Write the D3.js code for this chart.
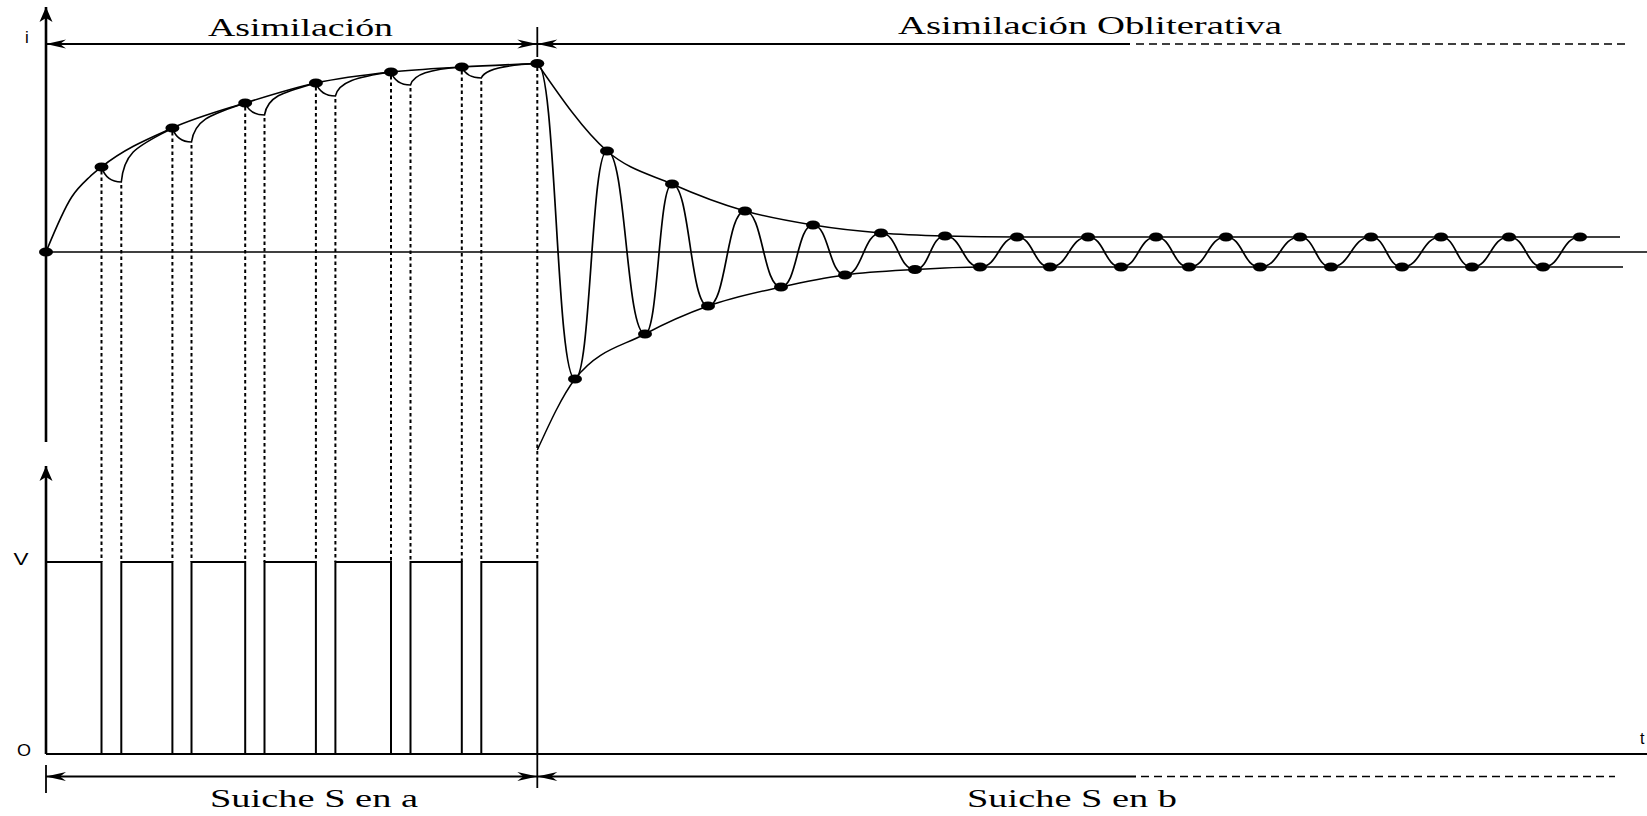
<!DOCTYPE html>
<html lang="es">
<head>
<meta charset="utf-8">
<title>Asimilación</title>
<script src="https://cdn.jsdelivr.net/npm/d3@7"></script>
<style>
  body { margin: 0; background: #fff; }
  svg { display: block; }
</style>
</head>
<body>
<div class="grafica"></div>
<script>
// Datos (t en unidades de tiempo, i en unidades de corriente)
var tInicio = [0, 25.7, 43.6];          // primera subida desde el origen
var iInicio = [0, 55, 75];
var tApagado = [55.5, 126.4, 199.2, 269.9, 345, 415.8, 491.3];   // puntos: el suiche se abre
var iCarga = [85, 124, 149, 169, 180, 185, 188.5];
var tEncendido = [75.3, 145.5, 218.5, 289.4, 364.5, 435.3];      // el suiche vuelve a cerrar
var iValle = [70, 110, 137, 156, 167, 174];

var tOsc = [491.3, 529, 561, 599, 626, 662, 699, 735, 767, 799, 835, 869, 899, 934, 971, 1004,
            1042, 1075, 1110, 1143, 1180, 1214, 1254, 1285, 1325, 1356, 1395, 1426, 1463, 1497, 1534];
var iOsc = [188.5, -127, 101, -82, 68, -54, 41, -35, 27, -23, 19, -17.5, 16, -15, 15, -15,
            15, -15, 15, -15, 15, -15, 15, -15, 15, -15, 15, -15, 15, -15, 15];

var tEnvSup = [491.3, 561, 626, 699, 767, 835, 899, 971, 1574];
var iEnvSup = [188.5, 101, 68, 41, 27, 19, 16, 15, 15];
var tEnvInf = [491.3, 529, 599, 662, 735, 799, 869, 934, 1577];
var iEnvInf = [-198, -127, -82, -54, -35, -23, -17.5, -15, -15];

var nivelV = 1;
var fases = ["Asimilación", "Asimilación Obliterativa"];
var suiche = ["Suiche S en a", "Suiche S en b"];
var ejes = ["i", "V", "O", "t"];

var W = 1647, H = 816;
var svg = d3.select(".grafica").append("svg")
    .attr("width", W)
    .attr("height", H);

var x = d3.scaleLinear().domain([0, 1600]).range([46, 1646]);
var yI = d3.scaleLinear().domain([-200, 200]).range([452, 52]);
var yV = d3.scaleLinear().domain([0, 1]).range([754, 562]);

// Flechas
var defs = svg.append("defs");
defs.append("marker")
    .attr("id", "cota")
    .attr("viewBox", "-22 -6 24 12")
    .attr("refX", 0).attr("refY", 0)
    .attr("markerWidth", 24).attr("markerHeight", 12)
    .attr("markerUnits", "userSpaceOnUse")
    .attr("orient", "auto-start-reverse")
    .append("path")
    .attr("d", "M0,0 L-20,-4.5 L-14,0 L-20,4.5 Z")
    .attr("fill", "black");
defs.append("marker")
    .attr("id", "eje")
    .attr("viewBox", "-17 -8 18 16")
    .attr("refX", 0).attr("refY", 0)
    .attr("markerWidth", 18).attr("markerHeight", 16)
    .attr("markerUnits", "userSpaceOnUse")
    .attr("orient", "auto")
    .append("path")
    .attr("d", "M0,0 L-15,-6.5 L-11,0 L-15,6.5 Z")
    .attr("fill", "black");

function linea(x1, y1, x2, y2, ancho) {
    return svg.append("line")
        .attr("x1", x1).attr("y1", y1)
        .attr("x2", x2).attr("y2", y2)
        .attr("stroke", "black")
        .attr("stroke-width", ancho);
}

// Lineas verticales punteadas (suiche)
tApagado.forEach(function(t, k) {
    linea(x(t), yI(iCarga[k]) + 4, x(t), yV(nivelV), 2).attr("stroke-dasharray", "3.5,3");
});
tEncendido.forEach(function(t, k) {
    linea(x(t), yI(iValle[k]) + 3, x(t), yV(nivelV), 2).attr("stroke-dasharray", "3.5,3");
});

// Ejes
linea(x(0), yI(-190), x(0), yI(245), 2.6).attr("marker-end", "url(#eje)");
linea(x(0), yV(0), x(0), yV(1.5), 2.6).attr("marker-end", "url(#eje)");
linea(x(0) - 4, yI(0), W, yI(0), 1.5);
linea(x(0), yV(0), W, yV(0), 2.2);

// Pulsos de tension
var pulsos = [[0, nivelV]];
tApagado.forEach(function(t, k) {
    pulsos.push([t, 0]);
    if (k < tEncendido.length) pulsos.push([tEncendido[k], nivelV]);
});
svg.append("path")
    .attr("d", d3.line()
        .x(function(d) { return x(d[0]); })
        .y(function(d) { return yV(d[1]); })
        .curve(d3.curveStepAfter)(pulsos))
    .attr("fill", "none")
    .attr("stroke", "black")
    .attr("stroke-width", 2);

var curva = d3.line()
    .x(function(d) { return x(d[0]); })
    .y(function(d) { return yI(d[1]); })
    .curve(d3.curveMonotoneX);

// Envolvente de carga
var carga = tInicio.map(function(t, k) { return [t, iInicio[k]]; })
    .concat(tApagado.map(function(t, k) { return [t, iCarga[k]]; }));
svg.append("path")
    .attr("d", curva(carga))
    .attr("fill", "none").attr("stroke", "black").attr("stroke-width", 1.6);

// Descargas y recargas entre pulsos
tEncendido.forEach(function(t, k) {
    var D = [x(tApagado[k]), yI(iCarga[k])];
    var C = [x(t), yI(iValle[k])];
    var N = [x(tApagado[k + 1]), yI(iCarga[k + 1])];
    var p = d3.path();
    p.moveTo(D[0], D[1]);
    p.quadraticCurveTo(D[0] + 0.25 * (C[0] - D[0]), C[1], C[0], C[1]);
    p.bezierCurveTo(C[0] + 0.06 * (N[0] - C[0]), C[1] - 0.6 * (C[1] - N[1]),
        N[0] - 0.45 * (N[0] - D[0]), N[1] + 0.45 * (D[1] - N[1]),
        N[0], N[1]);
    svg.append("path")
        .attr("d", p.toString())
        .attr("fill", "none").attr("stroke", "black").attr("stroke-width", 1.6);
});

// Envolventes de la oscilacion
svg.append("path")
    .attr("d", curva(tEnvSup.map(function(t, k) { return [t, iEnvSup[k]]; })))
    .attr("fill", "none").attr("stroke", "black").attr("stroke-width", 1.5);
svg.append("path")
    .attr("d", curva(tEnvInf.map(function(t, k) { return [t, iEnvInf[k]]; })))
    .attr("fill", "none").attr("stroke", "black").attr("stroke-width", 1.5);

// Oscilacion amortiguada
var osc = tOsc.map(function(t, k) { return [t, iOsc[k]]; });
svg.append("path")
    .attr("d", d3.line()
        .x(function(d) { return x(d[0]); })
        .y(function(d) { return yI(d[1]); })
        .curve(d3.curveBumpX)(osc))
    .attr("fill", "none").attr("stroke", "black").attr("stroke-width", 1.7);

// Puntos
var puntos = [[0, 0]]
    .concat(tApagado.map(function(t, k) { return [t, iCarga[k]]; }), osc.slice(1));
svg.selectAll("ellipse.punto")
    .data(puntos)
    .enter().append("ellipse")
    .attr("class", "punto")
    .attr("cx", function(d) { return x(d[0]); })
    .attr("cy", function(d) { return yI(d[1]); })
    .attr("rx", 7)
    .attr("ry", 4.5)
    .attr("fill", "black");

// Cotas superiores
var fin = tApagado[tApagado.length - 1];
var ySup = 44;
linea(x(0), ySup, x(fin), ySup, 1.8)
    .attr("marker-start", "url(#cota)").attr("marker-end", "url(#cota)");
linea(x(fin), 27, x(fin), 57, 1.8);
linea(x(fin), ySup, 1130, ySup, 1.8).attr("marker-start", "url(#cota)");
linea(1136, ySup, 1626, ySup, 1.5).attr("stroke-dasharray", "8,5");

// Cotas inferiores
var yInf = 776.5;
linea(x(0), yInf, x(fin), yInf, 1.8)
    .attr("marker-start", "url(#cota)").attr("marker-end", "url(#cota)");
linea(x(0), 765, x(0), 793, 1.8);
linea(x(fin), yV(0), x(fin), 788, 1.8);
linea(x(fin), yInf, 1136, yInf, 1.8).attr("marker-start", "url(#cota)");
linea(1141, yInf, 1615, yInf, 1.5).attr("stroke-dasharray", "8,5");

// Textos
function texto(s, px, py, tam, largo, familia) {
    var t = svg.append("text")
        .attr("x", px).attr("y", py)
        .attr("font-family", familia)
        .attr("font-size", tam)
        .attr("fill", "black")
        .text(s);
    if (largo) t.attr("textLength", largo).attr("lengthAdjust", "spacingAndGlyphs");
    return t;
}
var serif = "'Liberation Serif', 'Times New Roman', serif";
var sans = "'Liberation Sans', Arial, sans-serif";
texto(fases[0], 208, 35.7, 26, 185, serif);
texto(fases[1], 898, 34.3, 26, 384, serif);
texto(suiche[0], 210, 806.5, 25, 208, serif);
texto(suiche[1], 967, 806.5, 25, 210, serif);
texto(ejes[0], 25, 43, 17, null, sans);
texto(ejes[1], 13.5, 564.5, 16, 15, sans);
texto(ejes[2], 17, 756, 16, 14, sans);
texto(ejes[3], 1640, 744, 16, null, sans);
</script>
</body>
</html>
